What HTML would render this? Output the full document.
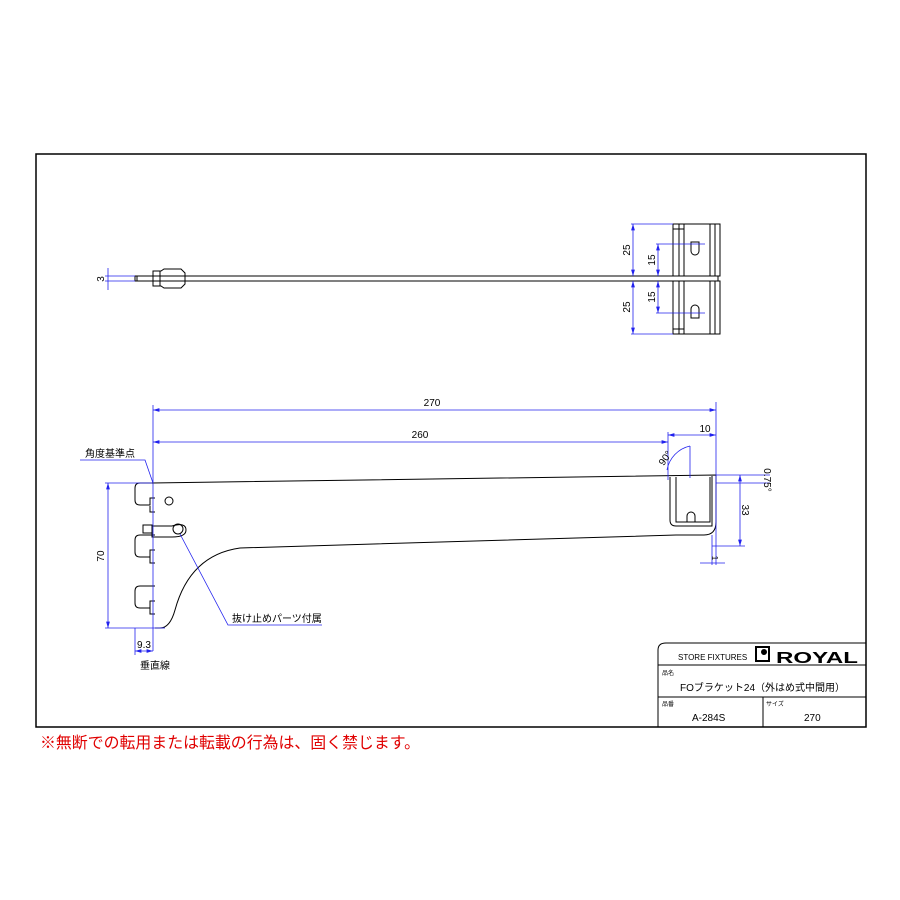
<!DOCTYPE html><html><head><meta charset="utf-8"><style>body{margin:0;background:#fff}svg{display:block}text{font-family:"Liberation Sans","Noto Sans CJK JP",sans-serif}</style></head><body>
<svg width="900" height="900" viewBox="0 0 900 900" xmlns="http://www.w3.org/2000/svg">
<defs><marker id="a" viewBox="0 0 10 6" refX="10" refY="3" markerWidth="8" markerHeight="5" orient="auto-start-reverse"><path d="M0,0 L10,3 L0,6 Z" fill="#2222ee"/></marker></defs>
<rect x="36" y="154" width="830" height="573" fill="none" stroke="#000" stroke-width="1.5"/>
<g stroke="#000" fill="none" stroke-width="1">
<path d="M658,727 V650 Q658,643 666,643 H866"/>
<line x1="658" y1="665" x2="866" y2="665"/>
<line x1="658" y1="697" x2="866" y2="697"/>
<line x1="763" y1="697" x2="763" y2="727"/>
<rect x="756" y="647" width="13" height="14" stroke-width="2"/>
</g>
<circle cx="764" cy="652" r="3" fill="#000"/>
<text x="678" y="660" font-size="8" transform="scale(1,1)">STORE FIXTURES</text>
<text x="776" y="663" font-size="16" font-weight="bold" textLength="82" lengthAdjust="spacingAndGlyphs">ROYAL</text>
<text x="662" y="675" font-size="6">品名</text>
<text x="680" y="691" font-size="10">FOブラケット24（外はめ式中間用）</text>
<text x="662" y="706" font-size="6">品番</text>
<text x="766" y="706" font-size="6">サイズ</text>
<text x="692" y="721" font-size="10">A-284S</text>
<text x="804" y="721" font-size="10">270</text>
<text x="40" y="748" font-size="16" fill="#e00000" textLength="380" lengthAdjust="spacingAndGlyphs">※無断での転用または転載の行為は、固く禁じます。</text>

<g stroke="#000" fill="none" stroke-width="1">
<rect x="135" y="276" width="583" height="5"/>
<line x1="137" y1="276" x2="137" y2="281"/>
<path d="M153,271 H161 L164,269 H181 L185,273 V284 L181,288 H164 L161,286 H153 Z"/>
<line x1="160" y1="271" x2="160" y2="286"/>
<rect x="673" y="224" width="47" height="52"/>
<rect x="673" y="281" width="47" height="53"/>
<line x1="679" y1="224" x2="679" y2="276"/><line x1="684" y1="224" x2="684" y2="276"/>
<line x1="710" y1="224" x2="710" y2="276"/><line x1="715" y1="224" x2="715" y2="276"/>
<line x1="679" y1="281" x2="679" y2="334"/><line x1="684" y1="281" x2="684" y2="334"/>
<line x1="710" y1="281" x2="710" y2="334"/><line x1="715" y1="281" x2="715" y2="334"/>
<path d="M691,242 H699 V251 A4,4 0 0 1 691,251 Z"/>
<path d="M691,318 H699 V309 A4,4 0 0 0 691,309 Z"/>
<line x1="673" y1="229" x2="684" y2="229"/><line x1="673" y1="329" x2="684" y2="329"/>
</g>
<g stroke="#2222ee" fill="none" stroke-width="0.8">
<line x1="108" y1="268" x2="108" y2="290"/><line x1="105" y1="276" x2="135" y2="276"/><line x1="105" y1="281" x2="135" y2="281"/>
<line x1="633" y1="224" x2="633" y2="276" marker-start="url(#a)" marker-end="url(#a)"/><line x1="631" y1="224" x2="673" y2="224"/>
<line x1="658" y1="244" x2="658" y2="276" marker-start="url(#a)" marker-end="url(#a)"/><line x1="656" y1="244" x2="705" y2="244"/>
<line x1="658" y1="281" x2="658" y2="313" marker-start="url(#a)" marker-end="url(#a)"/><line x1="656" y1="313" x2="705" y2="313"/>
<line x1="633" y1="281" x2="633" y2="334" marker-start="url(#a)" marker-end="url(#a)"/><line x1="631" y1="334" x2="673" y2="334"/>
</g>
<g font-size="10" fill="#000">
<text transform="translate(104,279) rotate(-90)" text-anchor="middle">3</text>
<text transform="translate(630,250) rotate(-90)" text-anchor="middle">25</text>
<text transform="translate(655,260) rotate(-90)" text-anchor="middle">15</text>
<text transform="translate(655,297) rotate(-90)" text-anchor="middle">15</text>
<text transform="translate(630,307) rotate(-90)" text-anchor="middle">25</text>
</g>

<g stroke="#000" fill="none" stroke-width="1">
<path d="M152,483 L716,475 V522 Q716,535 704,535 L676,535 L240,548 Q190,555 175,610 Q170,628 160,628 H155"/>
<path d="M152,483 H140 Q135,483 135,488 V500 Q135,505 140,505 H150 V498 H155 M155,512 H150 V506"/>
<path d="M155,535 H140 Q135,535 135,540 V552 Q135,557 140,557 H150 V550 H155 M155,563 H150 V557"/>
<path d="M155,586 H140 Q135,586 135,591 V603 Q135,608 140,608 H150 V601 H155 M155,614 H150 V608"/>
<circle cx="169" cy="501" r="4"/>
<path d="M152,526 H172 Q186,522 186,530 Q186,537 172,537 H152 Z"/>
<circle cx="178" cy="529" r="5"/>
<rect x="143" y="525" width="9" height="8"/>
<path d="M670,477 V520 Q670,526 676,526 H712 V476"/>
<path d="M676,477 V522 H710 V477"/>
<path d="M687,522 V516 A4,4 0 0 1 695,516 V522"/>
</g>
<g stroke="#2222ee" fill="none" stroke-width="0.8">
<line x1="153" y1="405" x2="153" y2="651"/>
<line x1="716" y1="402" x2="716" y2="565"/>
<line x1="668" y1="432" x2="668" y2="480"/>
<line x1="153" y1="410" x2="716" y2="410" marker-start="url(#a)" marker-end="url(#a)"/>
<line x1="153" y1="442" x2="668" y2="442" marker-start="url(#a)" marker-end="url(#a)"/>
<line x1="668" y1="435" x2="716" y2="435" marker-start="url(#a)" marker-end="url(#a)"/>
<line x1="108" y1="483" x2="108" y2="628" marker-start="url(#a)" marker-end="url(#a)"/><line x1="105" y1="483" x2="152" y2="483"/><line x1="105" y1="628" x2="165" y2="628"/>
<line x1="135" y1="628" x2="135" y2="655"/><line x1="135" y1="651" x2="153" y2="651" marker-start="url(#a)" marker-end="url(#a)"/>
<line x1="716" y1="475" x2="770" y2="475"/><line x1="716" y1="483" x2="770" y2="483"/>
<line x1="740" y1="475" x2="740" y2="546" marker-start="url(#a)" marker-end="url(#a)"/><line x1="712" y1="546" x2="745" y2="546"/>
<line x1="712" y1="535" x2="712" y2="565"/><line x1="700" y1="563" x2="725" y2="563"/>
<path d="M667,470 A30,30 0 0 1 690,446"/>
<line x1="690" y1="446" x2="690" y2="478"/>
<path d="M80,460 H145 L153,483"/>
<path d="M322,625 H228 L180,534"/>
</g>
<g font-size="10" fill="#000">
<text x="432" y="406" text-anchor="middle">270</text>
<text x="420" y="438" text-anchor="middle">260</text>
<text x="705" y="432" text-anchor="middle">10</text>
<text transform="translate(668,460) rotate(-55)" text-anchor="middle">90°</text>
<text transform="translate(764,480) rotate(90)" text-anchor="middle">0.75°</text>
<text transform="translate(742,510) rotate(90)" text-anchor="middle">33</text>
<text transform="translate(712,558) rotate(90)" text-anchor="middle" font-size="8">1</text>
<text transform="translate(104,556) rotate(-90)" text-anchor="middle">70</text>
<text x="144" y="648" text-anchor="middle">9.3</text>
<text x="85" y="457">角度基準点</text>
<text x="232" y="622">抜け止めパーツ付属</text>
<text x="140" y="669">垂直線</text>
</g>
</svg>
</body></html>
